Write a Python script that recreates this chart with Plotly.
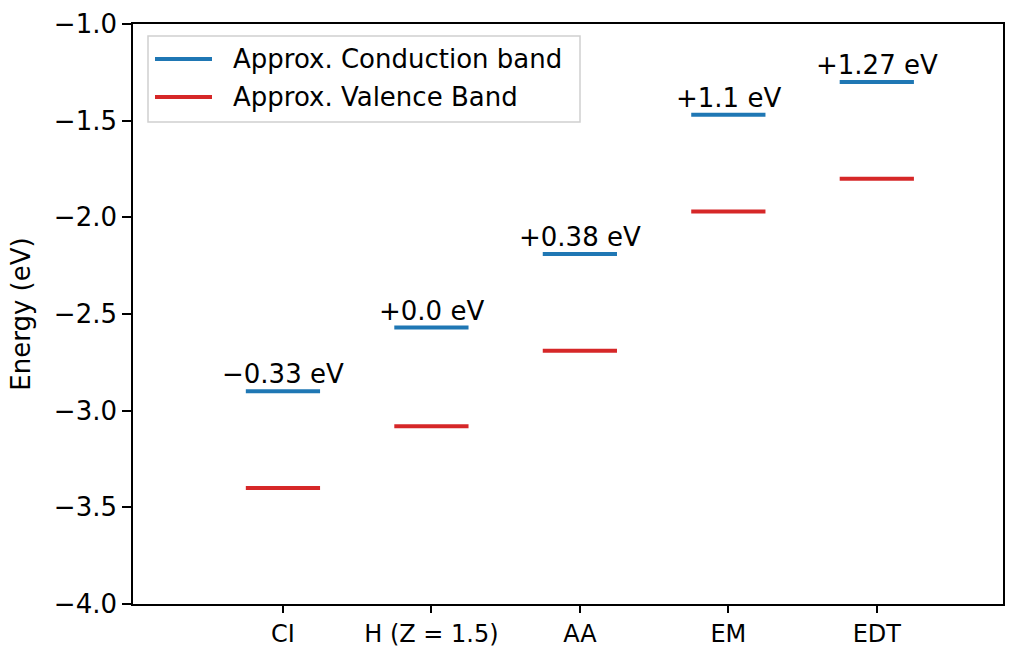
import plotly.graph_objects as go

categories = ["CI", "H (Z = 1.5)", "AA", "EM", "EDT"]
conduction = [-2.90, -2.57, -2.19, -1.47, -1.30]
valence = [-3.40, -3.08, -2.69, -1.97, -1.80]
labels = ["−0.33 eV", "+0.0 eV", "+0.38 eV", "+1.1 eV", "+1.27 eV"]
ytick_vals = [-4.0, -3.5, -3.0, -2.5, -2.0, -1.5, -1.0]
ytick_text = ["−4.0", "−3.5", "−3.0", "−2.5", "−2.0", "−1.5", "−1.0"]
series_names = ["Approx. Conduction band", "Approx. Valence Band"]
series_colors = ["#1f77b4", "#d62728"]

W, H = 1015, 648
ML, MR, MT, MB = 133, 12, 24, 44
FS = 26

half = 0.25
pos = list(range(len(categories)))

def seg(vals):
    xs, ys = [], []
    for i, v in zip(pos, vals):
        xs += [i - half, i + half, None]
        ys += [v, v, None]
    return xs, ys

fig = go.Figure()
for vals, name, col in zip([conduction, valence], series_names, series_colors):
    x, y = seg(vals)
    fig.add_trace(go.Scatter(x=x, y=y, mode="lines", name=name, showlegend=False,
                             line=dict(color=col, width=4)))

for i, v, t in zip(pos, conduction, labels):
    fig.add_annotation(x=i, y=v, text=t, showarrow=False, yanchor="bottom",
                       xanchor="center", yshift=0, font=dict(size=FS, color="black"))

# manual legend (paper coordinates from pixel positions)
pw, ph = W - ML - MR, H - MT - MB
def px(xp):
    return (xp - ML) / pw
def py(yp):
    return (H - MB - yp) / ph

fig.add_shape(type="rect", xref="paper", yref="paper",
              x0=px(148), x1=px(580), y0=py(122), y1=py(36),
              line=dict(color="#d0d0d0", width=1.5), fillcolor="rgba(255,255,255,0.8)")
for k, (name, col) in enumerate(zip(series_names, series_colors)):
    yc = 59 + 38 * k
    fig.add_shape(type="line", xref="paper", yref="paper",
                  x0=px(155), x1=px(212), y0=py(yc), y1=py(yc),
                  line=dict(color=col, width=4))
    fig.add_annotation(xref="paper", yref="paper", x=px(231), y=py(yc), text=name,
                       showarrow=False, xanchor="left", yanchor="middle",
                       font=dict(size=FS, color="black"))

axis_common = dict(showline=True, linecolor="black", linewidth=1.6, mirror=True,
                   ticks="outside", tickwidth=1.6, tickcolor="black",
                   showgrid=False, zeroline=False, automargin=False)

fig.update_layout(
    width=W, height=H,
    margin=dict(l=ML, r=MR, t=MT, b=MB),
    plot_bgcolor="white", paper_bgcolor="white",
    font=dict(family="DejaVu Sans", color="black"),
    xaxis=dict(range=[-1.01, 4.85], tickvals=pos, ticktext=categories, ticklen=7,
               tickfont=dict(size=24, color="black"), **axis_common),
    yaxis=dict(range=[-4.0, -1.0], tickvals=ytick_vals, ticktext=ytick_text, ticklen=9,
               tickfont=dict(size=FS, color="black"),
               title=dict(text="Energy (eV)", font=dict(size=FS), standoff=16), **axis_common),
    showlegend=False,
)

fig.write_html("out.html")
